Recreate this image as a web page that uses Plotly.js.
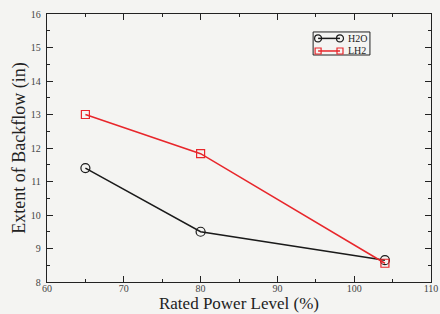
<!DOCTYPE html>
<html><head><meta charset="utf-8">
<script src="https://cdn.plot.ly/plotly-3.0.1.min.js"></script>
<style>html,body{margin:0;padding:0;background:#f4f4f2;}</style>
</head><body>
<div id="chart" style="width:440px;height:314px;"></div>
<script>
const power = [65, 80, 104];
const h2o = [11.4, 9.5, 8.65];
const lh2 = [13.0, 11.83, 8.56];
const seriesNames = ['H2O', 'LH2'];
const xTicks = [60, 70, 80, 90, 100, 110];
const yTicks = [8, 9, 10, 11, 12, 13, 14, 15, 16];

const serif = 'Liberation Serif, Times New Roman, serif';
const black = '#1a1a1a', red = '#e8262b';

const traces = [
  {x: power, y: h2o, name: seriesNames[0], mode: 'lines+markers', type: 'scatter',
   line: {color: black, width: 1.5},
   marker: {symbol: 'circle-open', size: 9, color: black, line: {width: 1.2}}},
  {x: power, y: lh2, name: seriesNames[1], mode: 'lines+markers', type: 'scatter',
   line: {color: red, width: 1.5},
   marker: {symbol: 'square-open', size: 8, color: red, line: {width: 1.2}}}
];

const axisCommon = {
  showgrid: false, zeroline: false, showline: true, mirror: 'allticks',
  linecolor: '#222', linewidth: 1.2, ticks: 'inside', ticklen: 6, tickwidth: 1,
  tickcolor: '#222', tickfont: {family: serif, size: 10, color: '#444'}
};

// compact legend drawn as decoration (paper coords of the plot area)
const L = {x0: 0.693, x1: 0.841, y0: 0.847, y1: 0.933,
           lx0: 0.706, lx1: 0.763, ty: [0.909, 0.862], tx: 0.781};
function pxShape(type, xc, yc, r, color) {
  return {type: type, xref: 'paper', yref: 'paper',
          xsizemode: 'pixel', ysizemode: 'pixel', xanchor: xc, yanchor: yc,
          x0: -r, x1: r, y0: -r, y1: r,
          line: {color: color, width: 1.2}, fillcolor: 'rgba(0,0,0,0)'};
}
const shapes = [
  {type: 'rect', xref: 'paper', yref: 'paper', x0: L.x0, x1: L.x1, y0: L.y0, y1: L.y1,
   line: {color: '#222', width: 1}, fillcolor: '#f4f4f2'},
  {type: 'line', xref: 'paper', yref: 'paper', x0: L.lx0, x1: L.lx1, y0: L.ty[0], y1: L.ty[0],
   line: {color: black, width: 1.5}},
  {type: 'line', xref: 'paper', yref: 'paper', x0: L.lx0, x1: L.lx1, y0: L.ty[1], y1: L.ty[1],
   line: {color: red, width: 1.5}},
  pxShape('circle', L.lx0, L.ty[0], 3.5, black),
  pxShape('circle', L.lx1, L.ty[0], 3.5, black),
  pxShape('rect', L.lx0, L.ty[1], 3, red),
  pxShape('rect', L.lx1, L.ty[1], 3, red)
];
const annotations = seriesNames.map((n, i) => ({
  text: n, xref: 'paper', yref: 'paper', x: L.tx, y: L.ty[i],
  xanchor: 'left', yanchor: 'middle', showarrow: false, borderpad: 0,
  font: {family: serif, size: 10, color: '#222'}
}));

const layout = {
  width: 440, height: 314,
  margin: {l: 47, r: 9, t: 14, b: 32},
  paper_bgcolor: '#f4f4f2', plot_bgcolor: '#f4f4f2',
  showlegend: false,
  shapes: shapes,
  annotations: annotations,
  xaxis: Object.assign({}, axisCommon, {
    range: [60, 110], tickvals: xTicks, ticktext: xTicks.map(String),
    ticklabelstandoff: -3,
    minor: {dtick: 5, ticks: 'inside', ticklen: 3, tickcolor: '#222'},
    title: {text: 'Rated Power Level (%)', standoff: 0,
            font: {family: serif, size: 17, color: '#222'}}
  }),
  yaxis: Object.assign({}, axisCommon, {
    range: [8, 16], tickvals: yTicks, ticktext: yTicks.map(String),
    ticklabelstandoff: 3,
    minor: {dtick: 0.5, ticks: 'inside', ticklen: 3, tickcolor: '#222'},
    title: {text: 'Extent of Backflow (in)', standoff: 0,
            font: {family: serif, size: 18, color: '#222'}}
  })
};

Plotly.newPlot('chart', traces, layout, {displayModeBar: false, staticPlot: true});
</script>
</body></html>
